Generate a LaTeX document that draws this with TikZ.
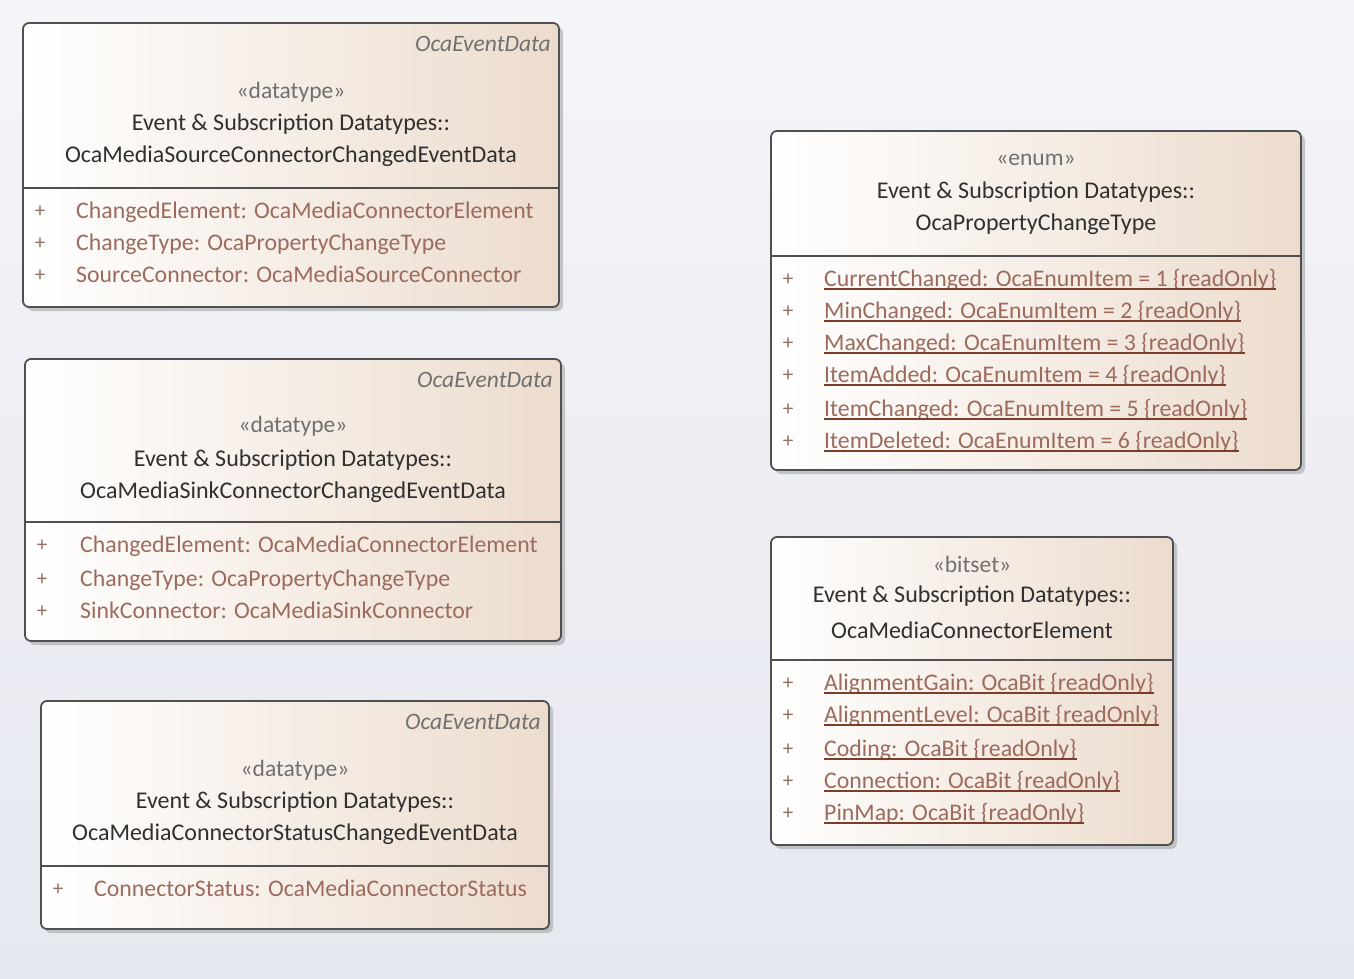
\documentclass[tikz,border=0pt]{standalone}
\usepackage{fontspec}
\setmainfont{Carlito}
\usetikzlibrary{calc,shadows}
\definecolor{bgTop}{HTML}{F4F5F8}
\definecolor{bgBot}{HTML}{E6E8F0}
\definecolor{boxRight}{HTML}{ECDCCD}
\definecolor{boxMid}{HTML}{F8F1EB}
\definecolor{boxLine}{HTML}{505050}
\definecolor{headText}{HTML}{303030}
\definecolor{stereoText}{HTML}{707070}
\definecolor{attrText}{HTML}{9C6B5D}
\definecolor{ulLine}{HTML}{7A3E2A}
\tikzset{
	classBox/.style={draw=boxLine,line width=1.8pt,rounded corners=6pt,left color=white,middle color=boxMid,right color=boxRight,anchor=north west,inner sep=0pt,outer sep=0pt,drop shadow={shadow xshift=4pt,shadow yshift=-4pt,fill=black!40,opacity=.5}},
	divLine/.style={draw=boxLine,line width=1.8pt},
	headTxt/.style={text=headText,font=\fontsize{24}{28}\selectfont,inner sep=0pt},
	stereo/.style={text=stereoText,font=\fontsize{23.5}{28}\selectfont,inner sep=0pt},
	baseName/.style={text=stereoText,font=\fontsize{23.5}{28}\selectfont\itshape,inner sep=0pt,anchor=east},
	plus/.style={text=attrText!80!gray,font=\fontsize{21}{25}\selectfont,inner sep=0pt},
	attr/.style={text=attrText,font=\fontsize{23.8}{28}\selectfont,inner sep=0pt,anchor=west,text height=18pt,text depth=6pt},
	attrUl/.style={attr,append after command={([yshift=3.5pt]\tikzlastnode.south west) edge[draw=ulLine,line width=1.8pt] ([yshift=3.5pt]\tikzlastnode.south east)}},
}
\begin{document}
\begin{tikzpicture}[x=1pt,y=-1pt]
	\path[use as bounding box,top color=bgTop,bottom color=bgBot] (0,0) rectangle (1354,978);
	
	% datatype boxes on the left
	\node (srcData) at (23,23) [classBox,minimum width=536,minimum height=284]{};
	\node (srcDataBase) at ($(srcData.north east)+(-8,21)$) [baseName]{OcaEventData};
	\node (srcDataSt) at ($(srcData.north)+(0,69)$) [stereo]{«datatype»};
	\node (srcDataPkg) at ($(srcData.north)+(0,101)$) [headTxt]{Event \& Subscription Datatypes::};
	\node (srcDataName) at ($(srcData.north)+(0,133)$) [headTxt]{OcaMediaSourceConnectorChangedEventData};
	\draw[divLine] ($(srcData.north west)+(0,165)$) -- ($(srcData.north east)+(0,165)$);
	\node (srcDataP1) at ($(srcData.north west)+(17,189)$) [plus]{+};
	\node (srcDataP2) at ($(srcData.north west)+(17,221)$) [plus]{+};
	\node (srcDataP3) at ($(srcData.north west)+(17,253)$) [plus]{+};
	\node (srcDataA1) at ($(srcData.north west)+(53,189)$) [attr]{ChangedElement: OcaMediaConnectorElement};
	\node (srcDataA2) at ($(srcData.north west)+(53,221)$) [attr]{ChangeType: OcaPropertyChangeType};
	\node (srcDataA3) at ($(srcData.north west)+(53,253)$) [attr]{SourceConnector: OcaMediaSourceConnector};
	
	\node (sinkData) at (25,359) [classBox,minimum width=536,minimum height=282]{};
	\node (sinkDataBase) at ($(sinkData.north east)+(-8,21)$) [baseName]{OcaEventData};
	\node (sinkDataSt) at ($(sinkData.north)+(0,67)$) [stereo]{«datatype»};
	\node (sinkDataPkg) at ($(sinkData.north)+(0,101)$) [headTxt]{Event \& Subscription Datatypes::};
	\node (sinkDataName) at ($(sinkData.north)+(0,133)$) [headTxt]{OcaMediaSinkConnectorChangedEventData};
	\draw[divLine] ($(sinkData.north west)+(0,163)$) -- ($(sinkData.north east)+(0,163)$);
	\node (sinkDataP1) at ($(sinkData.north west)+(17,187)$) [plus]{+};
	\node (sinkDataP2) at ($(sinkData.north west)+(17,221)$) [plus]{+};
	\node (sinkDataP3) at ($(sinkData.north west)+(17,253)$) [plus]{+};
	\node (sinkDataA1) at ($(sinkData.north west)+(55,187)$) [attr]{ChangedElement: OcaMediaConnectorElement};
	\node (sinkDataA2) at ($(sinkData.north west)+(55,221)$) [attr]{ChangeType: OcaPropertyChangeType};
	\node (sinkDataA3) at ($(sinkData.north west)+(55,253)$) [attr]{SinkConnector: OcaMediaSinkConnector};
	
	\node (statData) at (41,701) [classBox,minimum width=508,minimum height=228]{};
	\node (statDataBase) at ($(statData.north east)+(-8,21)$) [baseName]{OcaEventData};
	\node (statDataSt) at ($(statData.north)+(0,69)$) [stereo]{«datatype»};
	\node (statDataPkg) at ($(statData.north)+(0,101)$) [headTxt]{Event \& Subscription Datatypes::};
	\node (statDataName) at ($(statData.north)+(0,133)$) [headTxt]{OcaMediaConnectorStatusChangedEventData};
	\draw[divLine] ($(statData.north west)+(0,165)$) -- ($(statData.north east)+(0,165)$);
	\node (statDataP1) at ($(statData.north west)+(17,189)$) [plus]{+};
	\node (statDataA1) at ($(statData.north west)+(53,189)$) [attr]{ConnectorStatus: OcaMediaConnectorStatus};
	
	% enum and bitset on the right
	\node (chgType) at (771,131) [classBox,minimum width=530,minimum height=339]{};
	\node (chgTypeSt) at ($(chgType.north)+(0,29)$) [stereo]{«enum»};
	\node (chgTypePkg) at ($(chgType.north)+(0,61)$) [headTxt]{Event \& Subscription Datatypes::};
	\node (chgTypeName) at ($(chgType.north)+(0,93)$) [headTxt]{OcaPropertyChangeType};
	\draw[divLine] ($(chgType.north west)+(0,125)$) -- ($(chgType.north east)+(0,125)$);
	\node (chgTypeP1) at ($(chgType.north west)+(17,149)$) [plus]{+};
	\node (chgTypeP2) at ($(chgType.north west)+(17,181)$) [plus]{+};
	\node (chgTypeP3) at ($(chgType.north west)+(17,213)$) [plus]{+};
	\node (chgTypeP4) at ($(chgType.north west)+(17,245)$) [plus]{+};
	\node (chgTypeP5) at ($(chgType.north west)+(17,279)$) [plus]{+};
	\node (chgTypeP6) at ($(chgType.north west)+(17,311)$) [plus]{+};
	\node (chgTypeA1) at ($(chgType.north west)+(53,149)$) [attrUl]{CurrentChanged: OcaEnumItem = 1 \{readOnly\}};
	\node (chgTypeA2) at ($(chgType.north west)+(53,181)$) [attrUl]{MinChanged: OcaEnumItem = 2 \{readOnly\}};
	\node (chgTypeA3) at ($(chgType.north west)+(53,213)$) [attrUl]{MaxChanged: OcaEnumItem = 3 \{readOnly\}};
	\node (chgTypeA4) at ($(chgType.north west)+(53,245)$) [attrUl]{ItemAdded: OcaEnumItem = 4 \{readOnly\}};
	\node (chgTypeA5) at ($(chgType.north west)+(53,279)$) [attrUl]{ItemChanged: OcaEnumItem = 5 \{readOnly\}};
	\node (chgTypeA6) at ($(chgType.north west)+(53,311)$) [attrUl]{ItemDeleted: OcaEnumItem = 6 \{readOnly\}};
	
	\node (connElem) at (771,537) [classBox,minimum width=402,minimum height=308]{};
	\node (connElemSt) at ($(connElem.north)+(0,27)$) [stereo]{«bitset»};
	\node (connElemPkg) at ($(connElem.north)+(0,59)$) [headTxt]{Event \& Subscription Datatypes::};
	\node (connElemName) at ($(connElem.north)+(0,93)$) [headTxt]{OcaMediaConnectorElement};
	\draw[divLine] ($(connElem.north west)+(0,123)$) -- ($(connElem.north east)+(0,123)$);
	\node (connElemP1) at ($(connElem.north west)+(17,147)$) [plus]{+};
	\node (connElemP2) at ($(connElem.north west)+(17,179)$) [plus]{+};
	\node (connElemP3) at ($(connElem.north west)+(17,213)$) [plus]{+};
	\node (connElemP4) at ($(connElem.north west)+(17,245)$) [plus]{+};
	\node (connElemP5) at ($(connElem.north west)+(17,277)$) [plus]{+};
	\node (connElemA1) at ($(connElem.north west)+(53,147)$) [attrUl]{AlignmentGain: OcaBit \{readOnly\}};
	\node (connElemA2) at ($(connElem.north west)+(53,179)$) [attrUl]{AlignmentLevel: OcaBit \{readOnly\}};
	\node (connElemA3) at ($(connElem.north west)+(53,213)$) [attrUl]{Coding: OcaBit \{readOnly\}};
	\node (connElemA4) at ($(connElem.north west)+(53,245)$) [attrUl]{Connection: OcaBit \{readOnly\}};
	\node (connElemA5) at ($(connElem.north west)+(53,277)$) [attrUl]{PinMap: OcaBit \{readOnly\}};
\end{tikzpicture}
\end{document}
